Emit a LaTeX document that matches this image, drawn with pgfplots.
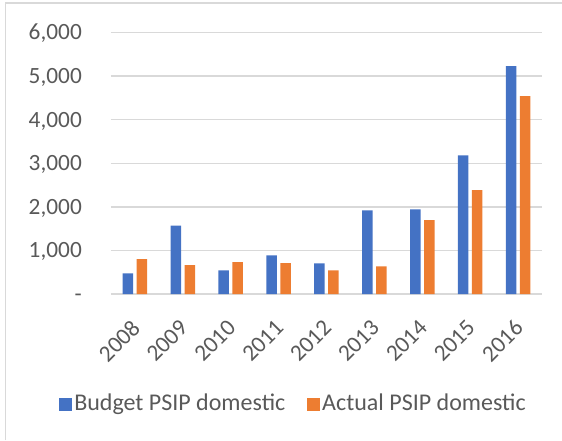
\documentclass[border=0pt]{standalone}
\usepackage{fontspec}
\setmainfont{Carlito}
\usepackage{pgfplots}
\pgfplotsset{compat=1.18}
\definecolor{cblue}{HTML}{4472C4}
\definecolor{corange}{HTML}{ED7D31}
\definecolor{gridc}{HTML}{D9D9D9}
\definecolor{textc}{HTML}{595959}
\begin{document}
\fontsize{23.3}{28}\selectfont
\begin{tikzpicture}
\path[use as bounding box] (0,0) rectangle (562pt,440pt);
\draw[gridc, line width=1.5pt] (5.5pt,0pt) -- (5.5pt,437pt) -- (562pt,437pt);
\begin{axis}[
  at={(111pt,146pt)}, anchor=south west,
  scale only axis, width=431pt, height=261.5pt,
  ybar=3.5pt, bar width=10.5pt,
  xmin=-0.5, xmax=8.5, ymin=0, ymax=6000,
  xtick=data,
  xticklabels={2008,2009,2010,2011,2012,2013,2014,2015,2016},
  ytick={0,1000,...,6000},
  /pgf/number format/assume math mode=true,
  yticklabel={\ifdim\tick pt=0pt -\hspace{11pt}\else\pgfmathprintnumber[1000 sep={,}]{\tick}\fi},
  major tick length=0pt,
  axis line style={draw=none},
  ymajorgrids, grid style={gridc, line width=1.5pt},
  yticklabel style={inner sep=0pt, anchor=base east, xshift=-29pt, yshift=-7.4pt, text=textc},
  xticklabel style={inner sep=0pt, xshift=1pt, yshift=-30pt, rotate=45, anchor=east, text=textc},
  legend style={at={(0.4234,-0.4207)}, anchor=center, draw=none, fill=none,
    legend columns=2, text=textc, nodes={inner sep=2.5pt},
    font=\fontsize{24}{28}\selectfont,
    /tikz/every even column/.append style={column sep=19pt}},
  legend image code/.code={\fill[#1] (0pt,-6.5pt) rectangle (13pt,6.5pt);},
  clip=false,
]
\addplot[fill=cblue, draw=none] coordinates {(0,474) (1,1567) (2,543) (3,887) (4,704) (5,1919) (6,1942) (7,3181) (8,5229)};
\addplot[fill=corange, draw=none] coordinates {(0,803) (1,665) (2,734) (3,711) (4,543) (5,635) (6,1697) (7,2385) (8,4541)};
\legend{Budget PSIP domestic, Actual PSIP domestic}
\end{axis}
\end{tikzpicture}
\end{document}
